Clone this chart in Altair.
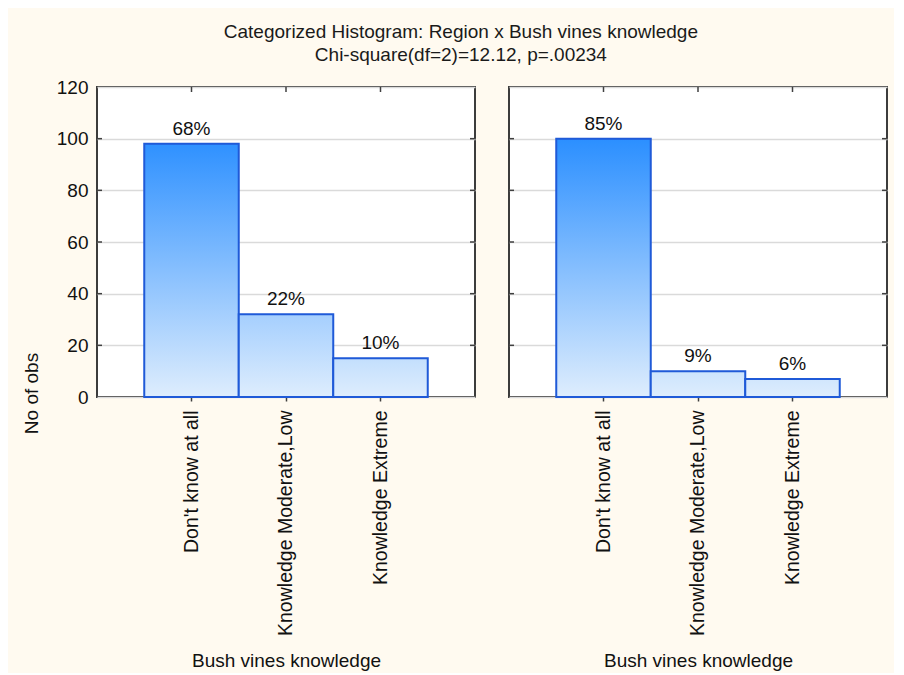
import altair as alt
import pandas as pd

categories = ["Don't know at all", "Knowledge Moderate,Low", "Knowledge Extreme"]
counts_left = [98, 32, 15]
counts_right = [100, 10, 7]
pct_left = ["68%", "22%", "10%"]
pct_right = ["85%", "9%", "6%"]
y_ticks = [0, 20, 40, 60, 80, 100, 120]
title_lines = ["Categorized Histogram: Region x Bush vines knowledge",
               "Chi-square(df=2)=12.12, p=.00234"]
x_title = "Bush vines knowledge"
y_title = "No of obs"

FONT = "Liberation Sans"
TOP_RGB = (43, 143, 255)
BOT_RGB = (222, 237, 253)
W, H = 378, 310


def lerp_hex(a, b, t):
    c = [round(a[k] + (b[k] - a[k]) * t) for k in range(3)]
    return "#%02x%02x%02x" % tuple(c)


def panel(counts, pcts, show_y):
    df = pd.DataFrame({"i": list(range(len(categories))), "cat": categories,
                       "n": counts, "pct": pcts})
    xaxis = alt.Axis(title=x_title, labelAngle=-90, labelAlign="right",
                     labelBaseline="middle", labelFontSize=19.5, titleFontSize=19,
                     labelPadding=9, titleY=263, titleBaseline="middle",
                     tickSize=4, tickColor="#404040",
                     tickWidth=1.5, domain=False, labelLimit=400, labelColor="#111111",
                     titleColor="#111111", titleFontWeight="normal", grid=False)
    xenc = alt.X("cat:N", sort=categories,
                 scale=alt.Scale(paddingInner=0, paddingOuter=0.5), axis=xaxis)
    if show_y:
        yaxis = alt.Axis(title=y_title, values=y_ticks, ticks=False, domain=False,
                         labelFontSize=19, labelColor="#111111", labelPadding=9,
                         titleFontSize=19, titleFontWeight="normal", titleColor="#111111",
                         titleX=-66, titleY=306, titleAlign="center",
                         titleBaseline="middle", titleAngle=-90,
                         grid=True, gridColor="#dadada", gridWidth=1.5)
    else:
        yaxis = alt.Axis(title=None, values=y_ticks, ticks=False, domain=False,
                         labels=False, grid=True, gridColor="#dadada", gridWidth=1.5)
    yscale = alt.Scale(domain=[0, 120], nice=False)

    def yenc(field):
        return alt.Y(field, scale=yscale, axis=yaxis)

    layers = []
    for i in range(len(categories)):
        top = lerp_hex(BOT_RGB, TOP_RGB, min(counts[i] / 100.0, 1.0))
        grad = alt.Gradient(gradient="linear",
                            stops=[alt.GradientStop(color=top, offset=0),
                                   alt.GradientStop(color=lerp_hex(BOT_RGB, BOT_RGB, 0), offset=1)],
                            x1=0, x2=0, y1=0, y2=1)
        layers.append(
            alt.Chart(df).transform_filter(alt.datum.i == i)
            .mark_bar(fill=grad, stroke="#1f5ad8", strokeWidth=2)
            .encode(x=xenc, y=yenc("n:Q"))
        )
    text = alt.Chart(df).mark_text(baseline="bottom", dy=-5, fontSize=19,
                                   color="#111111").encode(x=xenc, y=yenc("n:Q"), text="pct:N")
    top_ticks = alt.Chart(df).mark_rule(color="#404040", strokeWidth=1.5).encode(
        x=xenc, y=alt.value(0), y2=alt.value(5))
    tdf = pd.DataFrame({"n": y_ticks[1:-1]})
    left_ticks = alt.Chart(tdf).mark_rule(color="#404040", strokeWidth=1.5).encode(
        y=yenc("n:Q"), x=alt.value(0), x2=alt.value(5))
    right_ticks = alt.Chart(tdf).mark_rule(color="#404040", strokeWidth=1.5).encode(
        y=yenc("n:Q"), x=alt.value(W - 5), x2=alt.value(W))
    return alt.layer(*layers, text, top_ticks, left_ticks, right_ticks).properties(
        width=W, height=H)


chart = alt.hconcat(panel(counts_left, pct_left, True),
                    panel(counts_right, pct_right, False), spacing=30).properties(
    title=alt.TitleParams(text=title_lines, fontSize=19, fontWeight="normal",
                          color="#1a1a1a", anchor="middle", lineHeight=23, offset=12,
                          dx=6),
    background="#fffaf0",
    padding={"left": 13, "top": 15, "right": 5, "bottom": 2},
).configure(font=FONT).configure_view(stroke="#3c3c3c", strokeWidth=2, fill="white")

chart.save("out.html", embed_options={"renderer": "svg", "actions": False})
